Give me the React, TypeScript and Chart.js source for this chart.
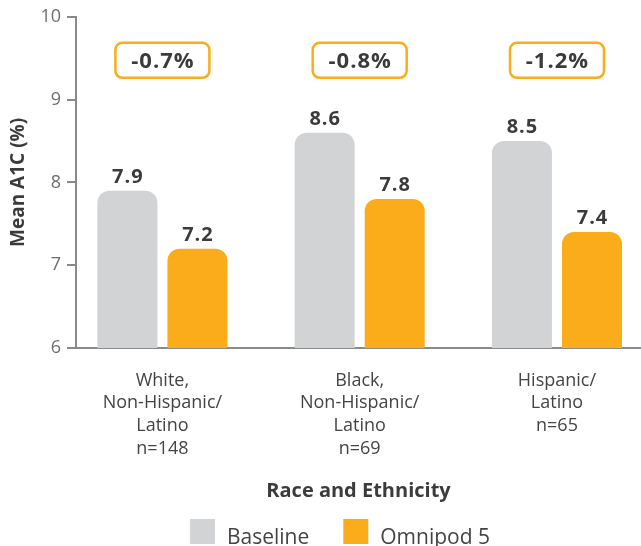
import React, { useEffect, useRef } from 'react';
import { Chart, registerables } from 'chart.js';

Chart.register(...registerables);

// Mean A1C by race and ethnicity: baseline vs. after Omnipod 5
const categoryLines: string[][] = [
  ['White,', 'Non-Hispanic/', 'Latino', 'n=148'],
  ['Black,', 'Non-Hispanic/', 'Latino', 'n=69'],
  ['Hispanic/', 'Latino', 'n=65'],
];
const baselineA1c = [7.9, 8.6, 8.5];
const omnipodA1c = [7.2, 7.8, 7.4];
const a1cChange = ['-0.7%', '-0.8%', '-1.2%'];
const yTickValues = [6, 7, 8, 9, 10];
const seriesNames = ['Baseline', 'Omnipod 5'];
const seriesColors = ['#d1d3d4', '#faac1b'];

const FONT = "'Open Sans', 'Noto Sans', sans-serif";
const TEXT_DARK = '#3b3b3b';

const toPoints = (values: number[]) => values.map((y, i) => ({ x: i, y }));

const setSpacing = (ctx: any, px: number) => {
  if ('letterSpacing' in ctx) ctx.letterSpacing = `${px}px`;
};

const annotationPlugin = {
  id: 'a1cAnnotations',
  afterDatasetsDraw(chart: any) {
    const ctx: CanvasRenderingContext2D = chart.ctx;
    ctx.save();
    ctx.fillStyle = TEXT_DARK;
    ctx.textAlign = 'center';

    // value above each bar
    ctx.font = `bold 20px ${FONT}`;
    setSpacing(ctx, 1);
    ctx.textBaseline = 'alphabetic';
    chart.data.datasets.forEach((ds: any, di: number) => {
      const meta = chart.getDatasetMeta(di);
      meta.data.forEach((bar: any, i: number) => {
        ctx.fillText(ds.data[i].y.toFixed(1), bar.x + 0.5, bar.y - 8);
      });
    });

    // change badge over each group
    const m0 = chart.getDatasetMeta(0);
    const m1 = chart.getDatasetMeta(1);
    const boxW = 94;
    const boxH = 35;
    const cy = chart.chartArea.top + 43.5;
    ctx.font = `bold 22px ${FONT}`;
    setSpacing(ctx, 1);
    ctx.textBaseline = 'middle';
    a1cChange.forEach((txt, i) => {
      const cx = (m0.data[i].x + m1.data[i].x) / 2;
      ctx.beginPath();
      ctx.roundRect(cx - boxW / 2, cy - boxH / 2, boxW, boxH, 7);
      ctx.lineWidth = 2.5;
      ctx.strokeStyle = seriesColors[1];
      ctx.stroke();
      ctx.fillText(txt, cx + 0.5, cy + 1);
    });
    ctx.restore();
  },
  afterDraw(chart: any) {
    // legend row under the axis title
    const ctx: CanvasRenderingContext2D = chart.ctx;
    ctx.save();
    ctx.font = `21px ${FONT}`;
    const box = 25;
    const textGap = 12;
    const itemGap = 34;
    const names = chart.data.datasets.map((d: any) => d.label);
    const widths = names.map((n: string) => ctx.measureText(n).width);
    const total = widths.reduce((s: number, w: number) => s + box + textGap + w, 0) + itemGap * (names.length - 1);
    let x = 340 - total / 2;
    const top = chart.height - 27;
    ctx.textBaseline = 'alphabetic';
    ctx.textAlign = 'left';
    names.forEach((n: string, i: number) => {
      ctx.fillStyle = chart.data.datasets[i].backgroundColor;
      ctx.fillRect(x, top, box, box);
      x += box + textGap;
      ctx.fillStyle = '#444444';
      ctx.fillText(n, x, top + box);
      x += widths[i] + itemGap;
    });
    ctx.restore();
  },
};

export default function App() {
  const canvasRef = useRef<HTMLCanvasElement | null>(null);

  useEffect(() => {
    if (!canvasRef.current) return;
    Chart.defaults.font.family = FONT;
    const chart = new Chart(canvasRef.current, {
      type: 'bar',
      data: {
        datasets: [
          {
            label: seriesNames[0],
            data: toPoints(baselineA1c),
            backgroundColor: seriesColors[0],
            borderRadius: 12,
            borderSkipped: 'start',
            categoryPercentage: 0.71,
            barPercentage: 0.857,
          },
          {
            label: seriesNames[1],
            data: toPoints(omnipodA1c),
            backgroundColor: seriesColors[1],
            borderRadius: 12,
            borderSkipped: 'start',
            categoryPercentage: 0.71,
            barPercentage: 0.857,
          },
        ],
      } as any,
      options: {
        responsive: false,
        animation: false,
        layout: { padding: { top: 16, right: 0, bottom: 42, left: 0 } },
        plugins: {
          legend: { display: false },
          tooltip: { enabled: false },
        },
        scales: {
          x: {
            type: 'linear',
            offset: false,
            min: -0.438,
            max: 2.426,
            bounds: 'data',
            afterBuildTicks: (scale: any) => {
              scale.ticks = categoryLines.map((_, i) => ({ value: i }));
            },
            afterFit: (scale: any) => {
              scale.height = 156;
            },
            ticks: {
              autoSkip: false,
              maxRotation: 0,
              padding: 21,
              color: '#444444',
              font: { size: 18, lineHeight: 1.27 },
              callback: (v: any) => categoryLines[Number(v)] ?? '',
            },
            grid: { display: false, drawTicks: false, offset: false },
            border: { display: true, color: '#8a8a8a', width: 2 },
            title: {
              display: true,
              text: 'Race and Ethnicity',
              color: TEXT_DARK,
              font: { size: 20, weight: 'bold' },
              padding: { top: 0, bottom: 1 },
            },
          },
          y: {
            min: 6,
            max: 10,
            afterBuildTicks: (scale: any) => {
              scale.ticks = yTickValues.map((v) => ({ value: v }));
            },
            afterFit: (scale: any) => {
              scale.width = 76;
            },
            ticks: {
              padding: 6,
              color: '#6d6e71',
              font: { size: 18 },
            },
            grid: {
              display: true,
              drawOnChartArea: false,
              drawTicks: true,
              tickLength: 9,
              color: '#8a8a8a',
              lineWidth: 2,
            },
            border: { display: true, color: '#8a8a8a', width: 2 },
            title: {
              display: true,
              text: 'Mean A1C (%)',
              color: TEXT_DARK,
              font: { size: 19, weight: 'bold' },
              padding: { top: 7, bottom: 0 },
            },
          },
        },
      } as any,
      plugins: [annotationPlugin],
    });
    return () => chart.destroy();
  }, []);

  return (
    <canvas
      ref={canvasRef}
      width={641}
      height={546}
      style={{ position: 'absolute', left: 0, top: 0, width: 641, height: 546 }}
    />
  );
}
